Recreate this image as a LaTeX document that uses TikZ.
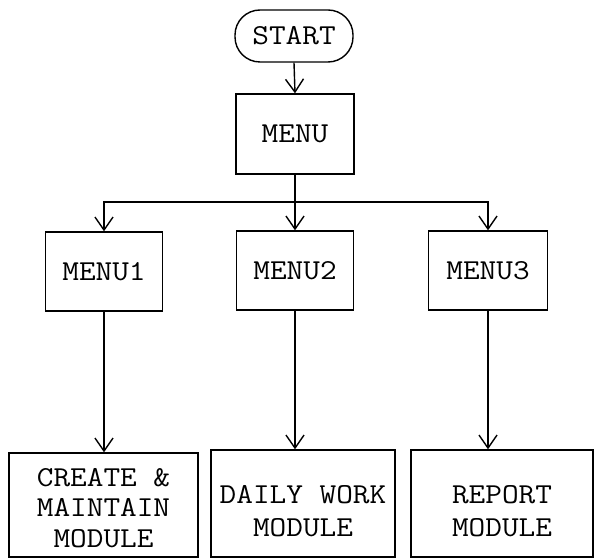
\documentclass[tikz,border=0pt]{standalone}
\usepackage{fontspec}
\setmonofont{Latin Modern Mono}[FakeStretch=1.12]
\usetikzlibrary{arrows.meta}
\newcommand{\lowr}[1]{\raisebox{-8bp}[\height][\depth]{#1}}
\newcommand{\lowrs}[1]{\raisebox{-3bp}[\height][\depth]{#1}}
\begin{document}
\begin{tikzpicture}[x=1bp,y=-1bp,
  box/.style={draw, line width=1.4bp, rectangle, inner sep=0pt, align=center,
    font=\fontsize{29}{33}\selectfont\ttfamily},
  term/.style={box, rounded corners=25bp},
  conn/.style={line width=1.4bp},
  arr/.style={conn, -{Straight Barb[length=13bp,width=18bp,line width=1.4bp]}}]
\useasboundingbox (0,0) rectangle (595,559);
\node[term, minimum width=118bp, minimum height=52bp] (start) at (294,36) {START};
\node[box, minimum width=118bp, minimum height=80bp] (menu) at (295,134) {MENU};
\node[box, minimum width=117bp, minimum height=79bp] (m1) at (104,271.5) {MENU1};
\node[box, minimum width=117bp, minimum height=79bp] (m2) at (295,270.5) {MENU2};
\node[box, minimum width=119bp, minimum height=79bp] (m3) at (488,270.5) {MENU3};
\node[box, minimum width=189bp, minimum height=104bp, font=\fontsize{29}{30.5}\selectfont\ttfamily] (b1) at (103.5,505) {\lowrs{CREATE \&}\\\lowrs{MAINTAIN}\\\lowrs{MODULE}};
\node[box, minimum width=184bp, minimum height=107bp] (b2) at (303,503.5) {\lowr{DAILY WORK}\\\lowr{MODULE}};
\node[box, minimum width=182bp, minimum height=107bp] (b3) at (502,503.5) {\lowr{REPORT}\\\lowr{MODULE}};
\coordinate (j) at (295,202);
\draw[arr] (start.south) -- (menu.north);
\draw[conn] (menu.south) -- (j);
\draw[arr] (j) -- (m2.north);
\draw[arr] (j) -| (m1.north);
\draw[arr] (j) -| (m3.north);
\draw[arr] (m1.south) -- (m1.south |- b1.north);
\draw[arr] (m2.south) -- (m2.south |- b2.north);
\draw[arr] (m3.south) -- (m3.south |- b3.north);
\end{tikzpicture}
\end{document}
